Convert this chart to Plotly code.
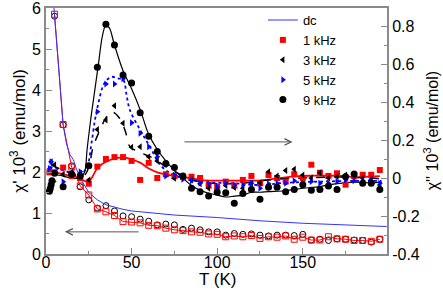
import plotly.graph_objects as go

# ---------------- data ----------------
# chi' (left axis), open markers
T_open = [5, 10, 15, 20, 25, 30, 35, 40, 45, 50, 55, 60, 65, 70, 75, 80, 85, 90, 95, 100,
          105, 110, 115, 120, 125, 130, 135, 140, 145, 150, 155, 160, 165, 170, 175, 180, 185, 190, 195]
chi1_1k = [5.85, 3.16, 2.12, 1.66, 1.44, 1.10, 1.03, 0.94, 0.79, 0.78, 0.76, 0.70, 0.69, 0.63, 0.59, 0.57, 0.54, 0.53, 0.49, 0.48,
           0.42, 0.44, 0.42, 0.45, 0.38, 0.42, 0.41, 0.44, 0.36, 0.41, 0.34, 0.34, 0.42, 0.37, 0.36, 0.33, 0.33, 0.31, 0.36]
chi1_9k = [5.80, 3.15, 2.15, 1.64, 1.32, 1.12, 1.18, 1.05, 0.93, 0.91, 0.85, 0.80, 0.71, 0.73, 0.71, 0.60, 0.63, 0.59, 0.54, 0.54,
           0.46, 0.50, 0.48, 0.49, 0.46, 0.44, 0.46, 0.46, 0.45, 0.48, 0.34, 0.36, 0.33, 0.37, 0.36, 0.34, 0.33, 0.29, 0.36]

# dc susceptibility (left axis)
T_dc = [3, 5, 10, 12, 14, 16, 18, 20, 25, 30, 35, 40, 45, 50, 55, 60, 75, 100, 125, 150, 175, 199]
chi_dc = [7.0, 5.8, 3.15, 2.68, 2.42, 2.30, 2.05, 1.85, 1.50, 1.32, 1.20, 1.14, 1.09, 1.05, 1.03, 1.00, 0.95, 0.89, 0.81, 0.75, 0.70, 0.67]

# chi'' (right axis), filled markers
T_1k = [2, 5, 10, 15, 20, 25, 30, 35, 40, 45, 50, 55, 60, 65, 70, 75, 80, 85, 90, 95, 100,
        105, 110, 115, 120, 125, 130, 135, 140, 145, 150, 155, 160, 165, 170, 175, 180, 185, 190, 195]
chi2_1k = [0.03, 0.03, 0.055, 0.01, 0.0, -0.03, 0.06, 0.10, 0.11, 0.11, 0.09, -0.01, 0.08, 0.0, 0.02, 0.01, 0.005, 0.007, 0.0, -0.04, -0.046,
           -0.019, -0.04, -0.01, 0.011, -0.028, 0.016, 0.0, -0.019, 0.02, 0.0, 0.07, 0.028, 0.011, 0.025, -0.035, 0.01, 0.017, 0.017, 0.042]

T_3k = [3, 5, 10, 15, 20, 25, 30, 35, 40, 45, 50, 55, 60, 65, 70, 75, 80, 85, 90, 95, 100,
        105, 110, 115, 120, 125, 130, 135, 140, 145, 150, 155, 160, 165, 170, 175, 180, 185, 190, 195]
chi2_3k = [0.086, 0.07, 0.02, 0.03, 0.025, -0.01, 0.255, 0.305, 0.38, 0.288, 0.162, 0.165, 0.112, 0.09, 0.077, -0.002, 0.007, -0.01, -0.03, -0.054, -0.063,
           -0.04, -0.05, -0.054, -0.028, -0.025, 0.033, 0.011, 0.04, 0.046, 0.016, 0.0, 0.028, 0.0, 0.007, 0.016, 0.016, 0.0, -0.007, -0.037]

T_5k = [2, 3, 4.5, 10, 20, 30, 35, 40, 45, 50, 55, 60, 65, 70, 75, 80, 85, 90, 95, 100,
        105, 110, 115, 120, 125, 130, 135, 140, 145, 150, 155, 160, 165, 170, 175, 180, 185, 190, 195]
chi2_5k = [0.05, 0.086, -0.019, -0.02, 0.033, 0.349, 0.495, 0.495, 0.523, 0.291, 0.235, 0.165, 0.112, 0.011, 0.016, -0.007, -0.014, -0.028, -0.03, -0.046,
           -0.028, -0.037, -0.037, -0.028, -0.054, -0.03, -0.028, -0.028, -0.014, -0.028, -0.019, -0.028, -0.028, -0.019, -0.011, -0.014, -0.014, -0.014, -0.028]

T_9k = [2, 2.5, 3, 3.5, 5, 10, 15, 20, 25, 30, 35, 40, 45, 50, 55, 60, 65, 70, 75, 80, 85, 90, 95, 100,
        105, 110, 115, 120, 125, 130, 135, 140, 145, 150, 155, 160, 165, 170, 175, 180, 185, 190, 195]
chi2_9k = [-0.07, -0.055, -0.035, -0.015, 0.025, -0.046, 0.02, 0.01, 0.065, 0.583, 0.809, 0.70, 0.542, 0.50, 0.344, 0.22, 0.14, 0.077, 0.056, 0.011, -0.054, -0.072, -0.095, -0.075,
           -0.077, -0.133, -0.081, -0.06, -0.112, -0.049, -0.049, -0.072, -0.06, -0.035, -0.065, -0.06, -0.042, -0.06, 0.007, 0.021, -0.028, -0.028, -0.06]

# guide curves through chi'' data
Tc_1k = [0.5, 8, 18, 24.7, 29.6, 33, 37.4, 41, 45.2, 50, 55, 59.8, 65, 71.4, 81, 91, 100, 110, 120, 128, 135, 144, 154, 164, 174, 180, 186, 195]
cc_1k = [0.05, 0.025, 0.004, -0.019, 0.046, 0.075, 0.095, 0.105, 0.109, 0.098, 0.081, 0.051, 0.03, 0.016, 0.004, -0.011, -0.014, -0.014, -0.014, -0.011, -0.002, 0.007, 0.012, 0.012, 0.011, 0.004, 0.006, 0.01]

Tc_3k = [3, 10, 19.5, 23, 25.5, 27.6, 31.5, 35.4, 38.3, 42.3, 46.1, 49, 52, 56, 61.7, 71.4, 79.3, 90, 110, 130, 150, 170, 190, 196]
cc_3k = [0.07, 0.04, 0.011, 0.02, 0.08, 0.165, 0.253, 0.323, 0.349, 0.323, 0.253, 0.165, 0.147, 0.13, 0.109, 0.051, 0.016, -0.02, -0.03, -0.01, 0.0, 0.005, 0.0, -0.005]

Tc_5k = [2, 10, 20, 24, 26.5, 28.6, 30.6, 33.5, 36, 38.4, 42, 45.2, 47, 49, 55, 60.7, 67.6, 77, 90, 110, 125, 140, 160, 180, 196]
cc_5k = [0.06, 0.04, 0.02, 0.06, 0.18, 0.305, 0.393, 0.489, 0.52, 0.533, 0.525, 0.516, 0.44, 0.358, 0.253, 0.165, 0.06, 0.007, -0.019, -0.028, -0.037, -0.025, -0.019, -0.015, -0.015]

Tc_9k = [2, 5, 10, 15, 20, 22.5, 24, 26, 28, 30.5, 33, 35, 37, 40, 45, 50, 55, 60, 65, 70, 75, 80, 85, 90, 95, 100,
         105, 110, 115, 120, 125, 130, 140, 150, 160, 170, 180, 190, 196]
cc_9k = [0.03, 0.02, 0.01, 0.0, 0.0, 0.03, 0.15, 0.30, 0.43, 0.59, 0.75, 0.805, 0.79, 0.70, 0.565, 0.47, 0.36, 0.23, 0.15, 0.09, 0.04, 0.0, -0.04, -0.065, -0.08, -0.09,
         -0.1, -0.095, -0.09, -0.075, -0.075, -0.072, -0.067, -0.054, -0.045, -0.03, -0.022, -0.025, -0.02]

x_ticks = [0, 50, 100, 150]
y_ticks = [0, 1, 2, 3, 4, 5, 6]
y2_ticks = [-0.4, -0.2, 0, 0.2, 0.4, 0.6, 0.8]
y2_labels = ["-0.4", "-0.2", "0", "0.2", "0.4", "0.6", "0.8"]

x_title = "T (K)"
y_title = "χ' 10<sup>3</sup> (emu/mol)"
y2_title = "χ'' 10<sup>3</sup> (emu/mol)"

# ---------------- figure ----------------
RED = "#ff0000"
BLUE = "#0000ff"
BLACK = "#000000"
FONT = "Liberation Sans, Arial, Helvetica, sans-serif"

fig = go.Figure()

# chi' open markers (left axis)
fig.add_trace(go.Scatter(x=T_open, y=chi1_9k, mode="markers", showlegend=False,
                         marker=dict(symbol="circle-open", size=6, color=BLACK, line=dict(width=1)), yaxis="y"))
fig.add_trace(go.Scatter(x=T_open, y=chi1_1k, mode="lines+markers", showlegend=False,
                         line=dict(color=RED, width=1),
                         marker=dict(symbol="square-open", size=6, color=RED, line=dict(width=1)), yaxis="y"))

# guide curves (right axis)
fig.add_trace(go.Scatter(x=Tc_1k, y=cc_1k, mode="lines", showlegend=False, line=dict(color=RED, width=1.8, shape="spline"), yaxis="y2"))
fig.add_trace(go.Scatter(x=Tc_3k, y=cc_3k, mode="lines", showlegend=False, line=dict(color=BLACK, width=1.5, dash="dash", shape="spline"), yaxis="y2"))
fig.add_trace(go.Scatter(x=Tc_5k, y=cc_5k, mode="lines", showlegend=False, line=dict(color=BLUE, width=1.8, dash="dot", shape="spline"), yaxis="y2"))
fig.add_trace(go.Scatter(x=Tc_9k, y=cc_9k, mode="lines", showlegend=False, line=dict(color=BLACK, width=1.2, shape="spline"), yaxis="y2"))

# dc line (left axis)
fig.add_trace(go.Scatter(x=T_dc, y=chi_dc, mode="lines", name="dc", line=dict(color="#3333ff", width=1), yaxis="y"))

# chi'' filled markers (right axis)
fig.add_trace(go.Scatter(x=T_1k, y=chi2_1k, mode="markers", name="1 kHz",
                         marker=dict(symbol="square", size=6, color=RED), yaxis="y2"))
fig.add_trace(go.Scatter(x=T_3k, y=chi2_3k, mode="markers", name="3 kHz",
                         marker=dict(symbol="triangle-left", size=6, color=BLACK), yaxis="y2"))
fig.add_trace(go.Scatter(x=T_5k, y=chi2_5k, mode="markers", name="5 kHz",
                         marker=dict(symbol="triangle-right", size=6, color=BLUE), yaxis="y2"))
fig.add_trace(go.Scatter(x=T_9k, y=chi2_9k, mode="markers", name="9 kHz",
                         marker=dict(symbol="circle", size=7, color=BLACK), yaxis="y2"))

AXCOL = "#8a8a8a"
fig.update_layout(
    width=443, height=290,
    margin=dict(l=46, r=56, t=8, b=36, autoexpand=False),
    paper_bgcolor="white", plot_bgcolor="white",
    font=dict(family=FONT, size=16, color="black"),
    showlegend=True,
    legend=dict(x=0.636, y=1.012, xanchor="left", yanchor="top", bgcolor="rgba(0,0,0,0)",
                font=dict(size=13), borderwidth=0, tracegroupgap=0),
    xaxis=dict(range=[0, 199.2], showgrid=False, zeroline=False, showline=True, linecolor=AXCOL, linewidth=2,
               mirror=True, ticks="inside", ticklen=6, tickcolor=AXCOL, tickwidth=1, automargin=False,
               tickvals=x_ticks, ticklabelstandoff=-7, ticklabeloverflow="allow", tickfont=dict(size=16),
               minor=dict(dtick=25, ticks="inside", ticklen=3, tickcolor=AXCOL)),
    yaxis=dict(range=[0, 6.001], showgrid=False, zeroline=False, showline=True, linecolor=AXCOL, linewidth=2,
               ticks="inside", ticklen=6, tickcolor=AXCOL, tickwidth=1, tickvals=y_ticks, automargin=False,
               ticklabeloverflow="allow",
               minor=dict(dtick=0.5, ticks="inside", ticklen=3, tickcolor=AXCOL)),
    yaxis2=dict(range=[-0.4, 0.895], overlaying="y", side="right", anchor="x", showgrid=False, zeroline=False,
                showline=True, linecolor=AXCOL, linewidth=2, automargin=False, ticklabeloverflow="allow",
                ticks="inside", ticklen=6, tickcolor=AXCOL, tickwidth=1, tickvals=y2_ticks, ticktext=y2_labels,
                minor=dict(dtick=0.1, ticks="inside", ticklen=3, tickcolor=AXCOL)),
)

# axis titles
fig.add_annotation(text=x_title, xref="paper", yref="paper", x=0.504, y=-0.104, xanchor="center", yanchor="middle",
                   showarrow=False, font=dict(size=17))
fig.add_annotation(text=y_title, xref="paper", yref="paper", x=-0.083, y=0.5, xanchor="center", yanchor="middle",
                   textangle=-90, showarrow=False, font=dict(size=17))
fig.add_annotation(text=y2_title, xref="paper", yref="paper", x=1.13, y=0.5, xanchor="center", yanchor="middle",
                   textangle=-90, showarrow=False, font=dict(size=16))

# arrows indicating which axis each data group belongs to
fig.add_annotation(x=144, y=0.19, xref="x", yref="y2", ax=80, ay=0.19, axref="x", ayref="y2",
                   text="", showarrow=True, arrowhead=5, arrowsize=1.3, arrowwidth=1, arrowcolor="#555555")
fig.add_annotation(x=11, y=0.54, xref="x", yref="y", ax=55, ay=0.54, axref="x", ayref="y",
                   text="", showarrow=True, arrowhead=5, arrowsize=1.3, arrowwidth=1, arrowcolor="#555555")

# remove the browser's default page margin so the figure sits at the window's top-left corner
fig.write_html("out.html", config={"displayModeBar": False},
               post_script="document.body.style.margin='0';")
